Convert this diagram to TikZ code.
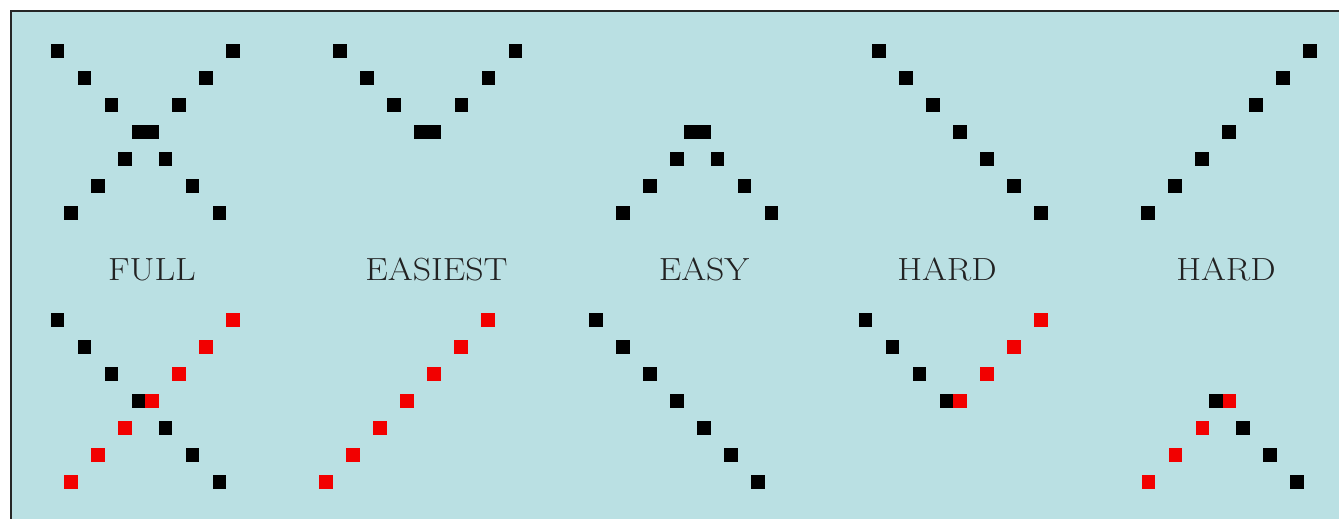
\documentclass[tikz,border=0pt]{standalone}
\usepackage{fontspec}
\definecolor{bg}{HTML}{BAE0E3}
\definecolor{sqred}{HTML}{F20000}
\definecolor{txt}{HTML}{222222}
\tikzset{
  lbl/.style={font=\fontsize{32}{36}\selectfont, text=txt, anchor=base, inner sep=0pt, xscale=1.12},
}
% line A: down-right from (x0,y0); line B: down-left from (x0+175.5,y0)
\newcommand\mylineA[5]{%
  \foreach \k in {#3,...,#4}{\fill[#5] ({#1+27*\k-6.75},{#2+27*\k-6.75}) rectangle ++(13.5,13.5);}}
\newcommand\mylineB[5]{%
  \foreach \k in {#3,...,#4}{\fill[#5] ({#1+175.5-27*\k-6.75},{#2+27*\k-6.75}) rectangle ++(13.5,13.5);}}
\begin{document}
\begin{tikzpicture}[x=1pt,y=-1pt]
\useasboundingbox (0,0) rectangle (1339,519);
\fill[white] (0,0) rectangle (1339,519);
\fill[bg] (11,11) rectangle (1339,519);
\draw[line width=2pt, black!85] (11,530) -- (11,11) -- (1350,11);
% top row
\mylineA{57.5}{51}{0}{6}{black}
\mylineB{57.5}{51}{0}{6}{black}
\mylineA{340}{51}{0}{3}{black}
\mylineB{340}{51}{0}{3}{black}
\mylineA{609.3}{51}{3}{6}{black}
\mylineB{609.3}{51}{3}{6}{black}
\mylineA{879}{51}{0}{6}{black}
\mylineB{1134.5}{51}{0}{6}{black}
% labels
\node[lbl] (l1) at (152,280) {FULL};
\node[lbl] (l2) at (436.5,280) {EASIEST};
\node[lbl] (l3) at (704,280) {EASY};
\node[lbl] (l4) at (947,280) {HARD};
\node[lbl] (l5) at (1226,280) {HARD};
% bottom row
\mylineA{57.5}{320}{0}{6}{black}
\mylineB{57.5}{320}{0}{6}{sqred}
\mylineB{312.5}{320}{0}{6}{sqred}
\mylineA{596}{320}{0}{6}{black}
\mylineA{865.3}{320}{0}{3}{black}
\mylineB{865.3}{320}{0}{3}{sqred}
\mylineA{1135}{320}{3}{6}{black}
\mylineB{1135}{320}{3}{6}{sqred}
\end{tikzpicture}
\end{document}
